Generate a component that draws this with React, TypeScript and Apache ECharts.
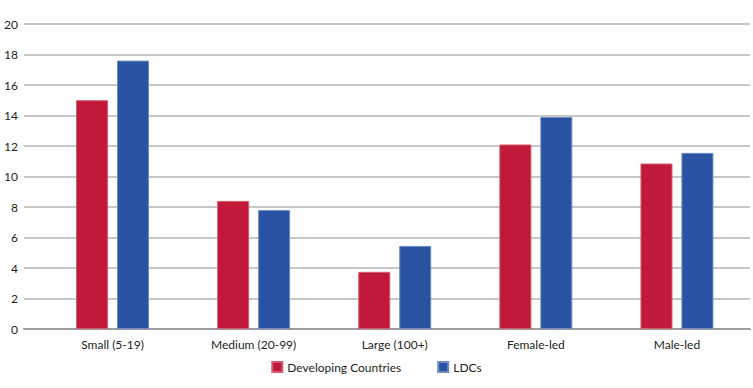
import React, { useEffect, useRef } from "react";
import * as echarts from "echarts";

const categories = ["Small (5-19)", "Medium (20-99)", "Large (100+)", "Female-led", "Male-led"];
const developingCountries = [15.0, 8.4, 3.75, 12.1, 10.85];
const ldcs = [17.6, 7.8, 5.45, 13.9, 11.55];
const seriesNames = ["Developing Countries", "LDCs"];
const yMin = 0;
const yMax = 20;
const yInterval = 2;

export default function App() {
  const ref = useRef<HTMLDivElement>(null);
  useEffect(() => {
    if (!ref.current) return;
    const chart = echarts.init(ref.current, null, { renderer: "svg" });
    const font = "Lato, 'Open Sans', sans-serif";
    chart.setOption({
      animation: false,
      backgroundColor: "#ffffff",
      textStyle: { fontFamily: font },
      legend: {
        data: seriesNames,
        bottom: 10,
        left: "center",
        itemWidth: 10,
        itemHeight: 10,
        itemGap: 36,
        icon: "rect",
        textStyle: { fontSize: 12, color: "#231f20", fontFamily: font },
      },
      grid: [
        { left: 42, right: 5.5, top: 24, bottom: 59 },
        { left: 24, right: 3, top: 24, bottom: 59 },
      ],
      xAxis: [
        {
          type: "category",
          gridIndex: 0,
          data: categories,
          axisLine: { show: false },
          axisTick: { show: false },
          axisLabel: { color: "#231f20", fontSize: 12, margin: 9, fontFamily: font },
        },
        {
          type: "value",
          gridIndex: 1,
          min: 0,
          max: 1,
          axisLine: { show: true, lineStyle: { color: "#9d9d9d", width: 2 } },
          axisTick: { show: false },
          axisLabel: { show: false },
          splitLine: { show: false },
        },
      ],
      yAxis: [
        {
          type: "value",
          gridIndex: 0,
          min: yMin,
          max: yMax,
          interval: yInterval,
          axisLine: { show: false },
          axisTick: { show: false },
          axisLabel: { show: false },
          splitLine: { show: false },
        },
        {
          type: "value",
          gridIndex: 1,
          min: yMin,
          max: yMax,
          interval: yInterval,
          axisLine: { show: false },
          axisTick: { show: false },
          axisLabel: { color: "#231f20", fontSize: 12, margin: 6, fontFamily: font },
          splitLine: { show: true, lineStyle: { color: "#b5b5b5", width: 1.5 } },
        },
      ],
      series: [
        {
          name: seriesNames[0],
          type: "bar",
          xAxisIndex: 0,
          yAxisIndex: 0,
          data: developingCountries,
          barWidth: 32,
          barGap: "28%",
          itemStyle: { color: "#c0193a", borderColor: "#d45a6f", borderWidth: 1 },
        },
        {
          name: seriesNames[1],
          type: "bar",
          xAxisIndex: 0,
          yAxisIndex: 0,
          data: ldcs,
          barWidth: 32,
          barGap: "28%",
          itemStyle: { color: "#2952a3", borderColor: "#6f8cc4", borderWidth: 1 },
        },
      ],
    });
    return () => chart.dispose();
  }, []);
  return (
    <div
      ref={ref}
      style={{ position: "fixed", left: 0, top: 0, width: 753, height: 388 }}
    />
  );
}
